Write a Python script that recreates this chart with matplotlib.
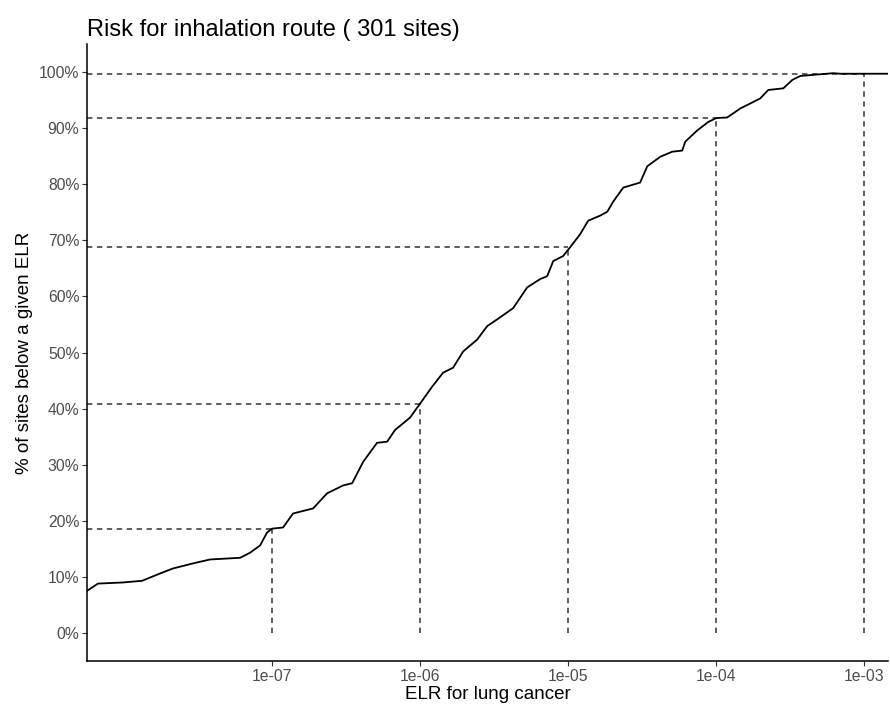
import numpy as np
import matplotlib.pyplot as plt
from matplotlib.ticker import FixedLocator

plt.rcParams['font.family'] = ['Liberation Sans', 'DejaVu Sans']

# ECDF curve: log10(ELR) and % of sites below it
log_elr = [-8.25, -8.176, -8.007, -7.878, -7.757, -7.669, -7.534, -7.419, -7.216,
           -7.149, -7.081, -7.034, -7.0, -6.926, -6.858, -6.723, -6.628, -6.520,
           -6.459, -6.385, -6.291, -6.223, -6.169, -6.068, -6.0, -5.919, -5.845,
           -5.777, -5.709, -5.615, -5.547, -5.480, -5.372, -5.277, -5.189, -5.142,
           -5.101, -5.034, -4.986, -4.919, -4.865, -4.784, -4.736, -4.696, -4.628,
           -4.514, -4.466, -4.378, -4.297, -4.230, -4.209, -4.128, -4.054, -4.0,
           -3.926, -3.838, -3.770, -3.703, -3.649, -3.547, -3.486, -3.432, -3.345,
           -3.209, -3.162, -2.84]
pct = [7.5, 8.8, 9.0, 9.3, 10.6, 11.5, 12.4, 13.1, 13.4,
       14.3, 15.6, 17.9, 18.6, 18.8, 21.3, 22.2, 24.9, 26.3,
       26.7, 30.5, 33.9, 34.1, 36.2, 38.4, 40.9, 43.9, 46.4,
       47.3, 50.2, 52.3, 54.7, 55.9, 57.9, 61.6, 63.1, 63.6,
       66.3, 67.2, 68.8, 71.1, 73.5, 74.4, 75.1, 76.9, 79.4,
       80.3, 83.2, 84.9, 85.8, 86.0, 87.6, 89.6, 91.1, 91.8,
       91.9, 93.5, 94.4, 95.3, 96.8, 97.1, 98.6, 99.3, 99.5,
       99.8, 99.7, 99.7]

# reference decades and the share of sites below each
ref_elr = [1e-7, 1e-6, 1e-5, 1e-4, 1e-3]
ref_pct = [18.6, 40.9, 68.8, 91.8, 99.7]
tick_labels = ['1e-07', '1e-06', '1e-05', '1e-04', '1e-03']
n_sites = 301

elr = 10 ** np.array(log_elr)
xmin, xmax = 10 ** -8.25, 10 ** -2.84

fig = plt.figure(figsize=(8.9, 7.11), dpi=100)
ax = fig.add_axes([87 / 890, 1 - 661 / 711, 801 / 890, 617 / 711])

dash_col = '#333333'
for xv, yv in zip(ref_elr, ref_pct):
    ax.plot([xmin, xv], [yv, yv], color=dash_col, lw=1.1, dashes=(3.5, 3))
    ax.plot([xv, xv], [0, yv], color=dash_col, lw=1.1, dashes=(3.5, 3))

ax.plot(elr, pct, color='black', lw=1.3)

ax.set_xscale('log')
ax.set_xlim(xmin, xmax)
ax.set_ylim(-5, 105)
ax.xaxis.set_major_locator(FixedLocator(ref_elr))
ax.xaxis.set_minor_locator(FixedLocator([]))
ax.set_xticklabels(tick_labels)
ax.set_yticks(np.arange(0, 101, 10))
ax.set_yticklabels([f'{v}%' for v in range(0, 101, 10)])

for s in ['top', 'right']:
    ax.spines[s].set_visible(False)
for s in ['left', 'bottom']:
    ax.spines[s].set_linewidth(1.1)
    ax.spines[s].set_color('black')
ax.tick_params(axis='both', colors='#333333', labelcolor='#4d4d4d',
               labelsize=11.3, length=3.5, width=0.8, pad=2)

ax.set_xlabel('ELR for lung cancer', fontsize=13.5, labelpad=2)
ax.set_ylabel('% of sites below a given ELR', fontsize=13.5, labelpad=4)
ax.set_title(f'Risk for inhalation route ( {n_sites} sites)', fontsize=17,
             loc='left', pad=6)

fig.savefig('out.png', dpi=100)
